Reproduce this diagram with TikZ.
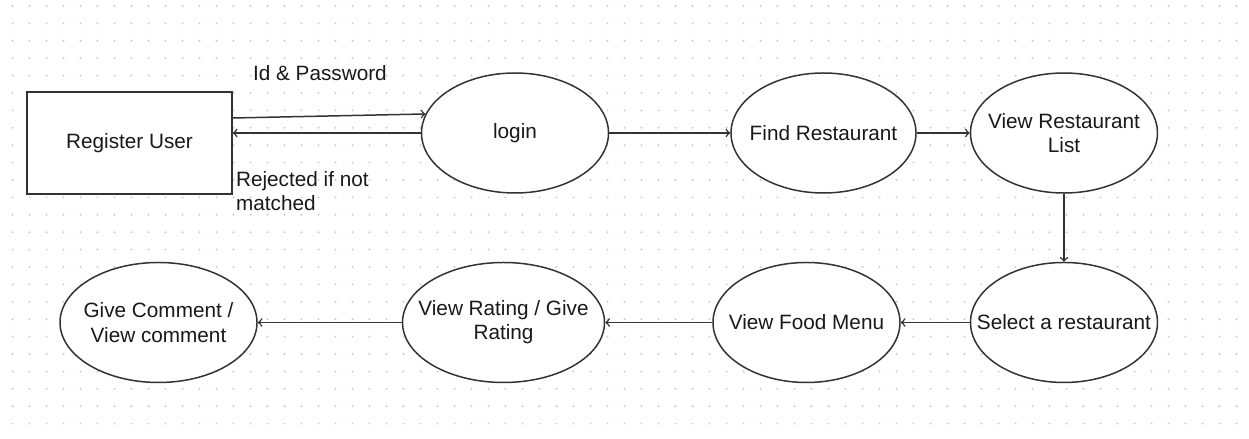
\documentclass[tikz,border=0pt]{standalone}
\usepackage{fontspec}
\setmainfont{Liberation Sans}
\usetikzlibrary{shapes.geometric,positioning}
\tikzset{node distance=2cm,
  every node/.style={font=\fontsize{11.8}{13.8}\selectfont, text=black!90},
  every edge/.style={draw=black!80, line width=0.85pt},
  usecase/.style={ellipse, draw=black!80, line width=0.85pt, fill=white,
    minimum width=3.74cm, minimum height=2.4cm, inner xsep=-1.2cm, align=center},
  actor/.style={rectangle, draw=black!80, line width=0.85pt, fill=white,
    minimum width=4.1cm, minimum height=2.04cm},
  note/.style={inner sep=0pt, align=left}}

\begin{document}
\begin{tikzpicture}
		\useasboundingbox (0,0) rectangle (24.98,8.78);
		% dotted page grid
		\foreach \x in {0.25,0.59,...,24.95}
			\foreach \y in {8.66,8.312,...,0.05}
				\fill[black!20] (\x,\y) circle (0.022cm);

		\node[usecase]                                        (login)   at (10.30,6.12) {login};
		\node[actor, left=3.76cm of login, yshift=-0.2cm]     (reg)     {Register User};
		\node[usecase, right=2.42cm of login, minimum width=3.7cm] (find) {Find Restaurant};
		\node[usecase, right=1.06cm of find]                  (list)    {View Restaurant\\List};
		\node[usecase, below=1.36cm of list]                  (select)  {Select a restaurant};
		\node[usecase, left=1.38cm of select]                 (menu)    {View Food Menu};
		\node[usecase, left=2.14cm of menu, minimum width=4.04cm] (rating) {View Rating / Give\\Rating};
		\node[usecase, left=2.88cm of rating, minimum width=3.94cm] (comment) {Give Comment /\\View comment};

		\node[note, anchor=west] (idpw) at ([xshift=0.4cm,yshift=0.36cm]reg.north east) {Id \& Password};
		\node[note, anchor=west] (reject) at ([xshift=0.06cm,yshift=0.07cm]reg.south east) {Rejected if not\\matched};

		\path[->]
			([yshift=0.5cm]reg.east) edge (login.168)
			(login.west)             edge (login.west -| reg.east)
			(login)                  edge (find)
			(find)                   edge (list)
			(list)                   edge (select)
			(select)                 edge (menu)
			(menu)                   edge (rating)
			(rating)                 edge (comment);
	\end{tikzpicture}
\end{document}
